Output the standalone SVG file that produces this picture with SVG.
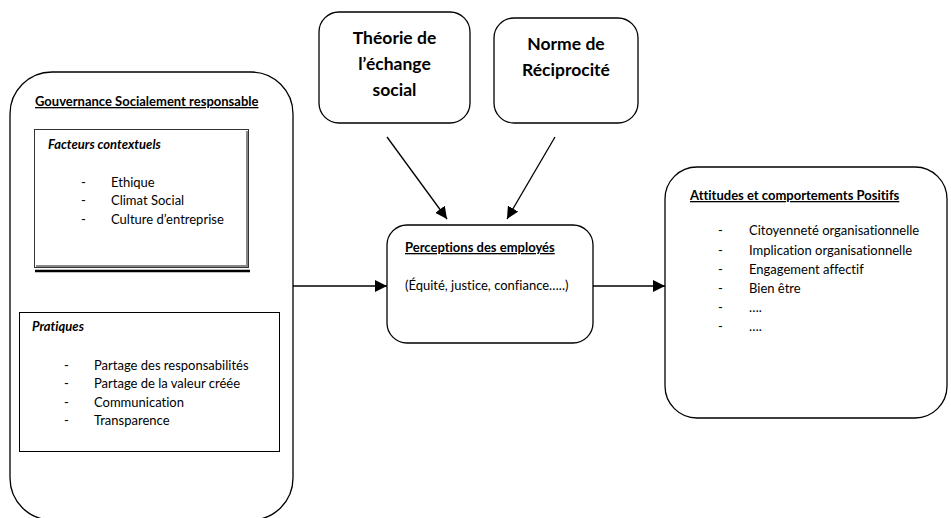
<svg xmlns="http://www.w3.org/2000/svg" width="951" height="518" viewBox="0 0 951 518">
<defs>
<marker id="ah" viewBox="0 0 12 12" refX="12" refY="6" markerWidth="12" markerHeight="12" markerUnits="userSpaceOnUse" orient="auto">
<path d="M0,0 L12,6 L0,12 z" fill="#000"/>
</marker>
<style>
text{font-family:Lato,"Open Sans","Liberation Sans",sans-serif;fill:#000;font-variant-ligatures:none}
.box{fill:#fff;stroke:#000;stroke-width:1.3}
.t{font-size:13px}
.h{font-size:13px;font-weight:bold;text-decoration:underline}
.i{font-size:13px;font-weight:bold;font-style:italic}
.big{font-size:17.5px;font-weight:bold;text-anchor:middle}
.c{stroke:#000;stroke-width:1.3;fill:none}
</style>
</defs>
<rect width="951" height="518" fill="#fff"/>
<g id="gouvernance">
<rect class="box" x="10" y="72" width="283" height="448" rx="42" ry="42"/>
<text class="h" x="35" y="106">Gouvernance Socialement responsable</text>
</g>
<g id="facteurs">
<rect x="34.5" y="129.5" width="214" height="138" fill="#fff" stroke="#333" stroke-width="1"/>
<path d="M247,131 V266 H36" fill="none" stroke="#888" stroke-width="2"/>
<line x1="35" y1="271" x2="250" y2="271" stroke="#000" stroke-width="2.5"/>
<text class="i" x="48" y="149">Facteurs contextuels</text>
<text class="t" x="81" y="187">-</text><text class="t" x="111" y="187">Ethique</text>
<text class="t" x="81" y="205">-</text><text class="t" x="111" y="205">Climat Social</text>
<text class="t" x="81" y="224">-</text><text class="t" x="111" y="224">Culture d’entreprise</text>
</g>
<g id="pratiques">
<rect x="19.5" y="312.5" width="260" height="139" fill="#fff" stroke="#000" stroke-width="1"/>
<text class="i" x="32" y="331">Pratiques</text>
<text class="t" x="64" y="370">-</text><text class="t" x="94" y="370">Partage des responsabilités</text>
<text class="t" x="64" y="388">-</text><text class="t" x="94" y="388">Partage de la valeur créée</text>
<text class="t" x="64" y="407">-</text><text class="t" x="94" y="407">Communication</text>
<text class="t" x="64" y="425">-</text><text class="t" x="94" y="425">Transparence</text>
</g>
<g id="theorie">
<rect class="box" x="319" y="12" width="151" height="111" rx="20" ry="20"/>
<text class="big" x="394.5" y="44">Théorie de</text>
<text class="big" x="394.5" y="70">l’échange</text>
<text class="big" x="394.5" y="96">social</text>
</g>
<g id="norme">
<rect class="box" x="494" y="18" width="144" height="105" rx="20" ry="20"/>
<text class="big" x="566" y="50">Norme de</text>
<text class="big" x="566" y="76">Réciprocité</text>
</g>
<g id="perceptions">
<rect class="box" x="387" y="225" width="206" height="118" rx="20" ry="20"/>
<text class="h" x="405" y="252">Perceptions des employés</text>
<text class="t" x="405" y="290">(Équité, justice, confiance…..)</text>
</g>
<g id="attitudes">
<rect class="box" x="665" y="167" width="282" height="251" rx="32" ry="32"/>
<text class="h" x="690" y="200">Attitudes et comportements Positifs</text>
<text class="t" x="718" y="235">-</text><text class="t" x="749" y="235">Citoyenneté organisationnelle</text>
<text class="t" x="718" y="255">-</text><text class="t" x="749" y="255">Implication organisationnelle</text>
<text class="t" x="718" y="274">-</text><text class="t" x="749" y="274">Engagement affectif</text>
<text class="t" x="718" y="293">-</text><text class="t" x="749" y="293">Bien être</text>
<text class="t" x="718" y="312">-</text><text class="t" x="749" y="312">….</text>
<text class="t" x="718" y="331">-</text><text class="t" x="749" y="331">….</text>
</g>
<g id="connectors">
<line class="c" x1="387" y1="137" x2="447" y2="219" marker-end="url(#ah)"/>
<line class="c" x1="555" y1="137" x2="507" y2="219" marker-end="url(#ah)"/>
<line class="c" x1="293" y1="286" x2="387" y2="286" marker-end="url(#ah)"/>
<line class="c" x1="593" y1="286" x2="665" y2="286" marker-end="url(#ah)"/>
</g>
</svg>
